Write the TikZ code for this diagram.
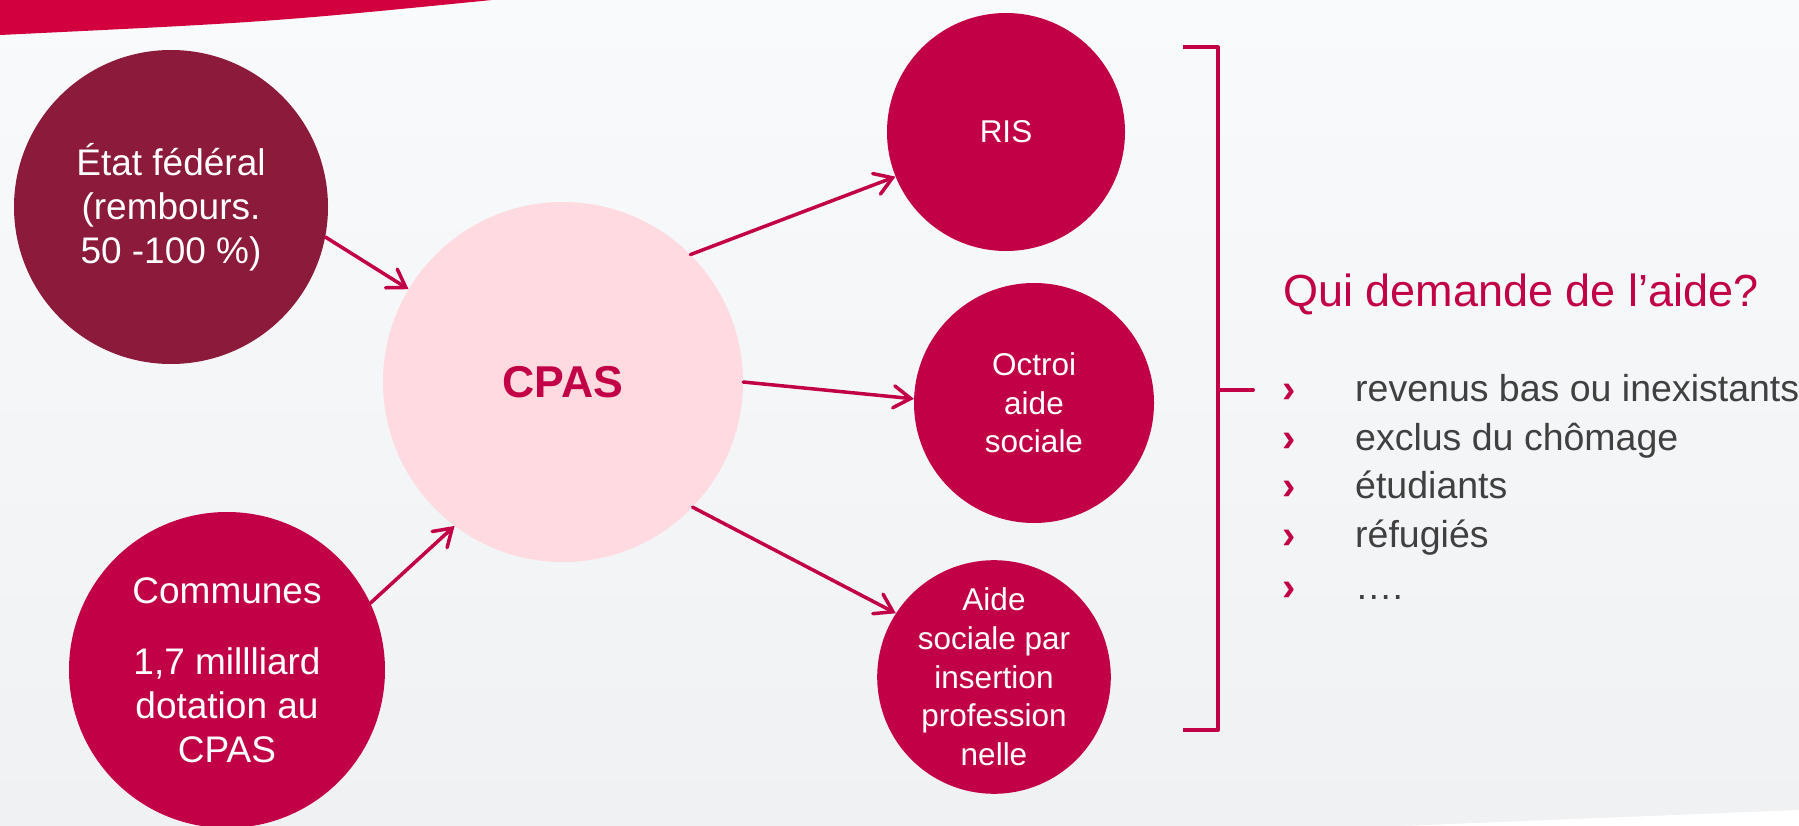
\documentclass[tikz,border=0pt]{standalone}
\usepackage{fontspec}
\setmainfont{Liberation Sans}
\usetikzlibrary{arrows.meta}
\definecolor{crim}{HTML}{C20045}
\definecolor{wine}{HTML}{8C1A3B}
\definecolor{band}{HTML}{D2003F}
\definecolor{pinkf}{HTML}{FFDAE0}
\definecolor{txtgray}{HTML}{404040}
\definecolor{bgtop}{HTML}{F9FAFB}
\definecolor{bgbot}{HTML}{F0F1F3}
\begin{document}
\begin{tikzpicture}[x=1pt,y=-1pt,
  bubble/.style={circle, inner sep=0pt, align=center, text=white, fill=crim},
  bigtext/.style={font=\fontsize{37}{44}\selectfont},
  smalltext/.style={font=\fontsize{31.5}{38.7}\selectfont},
  link/.style={crim, line width=3.5pt, line cap=round, -{Straight Barb[length=17pt,width=22pt,line cap=round]}},
  brack/.style={crim, line width=4pt, line join=round},
  item/.style={anchor=base west, text=txtgray, font=\fontsize{37.5}{45}\selectfont, inner sep=0pt},
  chev/.style={anchor=base, text=crim, font=\bfseries\fontsize{40}{48}\selectfont, inner sep=0pt}
]
\shade[top color=bgtop,bottom color=bgbot] (0,0) rectangle (1799,826);
\useasboundingbox (0,0) rectangle (1799,826);
\fill[band] (0,0) -- (492,0) .. controls (270,22) .. (0,35) -- cycle;
\fill[white] (1400,826) .. controls (1600,818) .. (1799,810) -- (1799,826) -- cycle;

\node[bubble, fill=wine, minimum size=314pt, bigtext] (etat) at (171,207) {État fédéral\\(rembours.\\50 -100 \%)};
\node[bubble, minimum size=316pt, bigtext] (communes) at (227,670) {Communes\\[27pt]1,7 millliard\\dotation au\\CPAS};
\node[circle, fill=pinkf, minimum size=360pt, inner sep=0pt, text=crim, font=\bfseries\fontsize{44.6}{50}\selectfont] (cpas) at (563,382) {CPAS};
\node[bubble, minimum size=238pt, smalltext] (ris) at (1006,132) {RIS};
\node[bubble, minimum size=240pt, smalltext] (octroi) at (1034,403) {Octroi\\aide\\sociale};
\node[bubble, minimum size=232pt, smalltext] (aide) at (994,677) {Aide\\sociale par\\insertion\\profession\\nelle};

\draw[link] (etat.-11.7) -- (cpas.149);
\draw[link] (communes.25.9) -- (cpas.233.3);
\draw[link] (cpas.45) -- (ris.202.4);
\draw[link] (cpas.0.6) -- (octroi.178.6);
\draw[link] (cpas.-44.8) -- (aide.147.5);

\coordinate (bt1) at (1183,47);
\coordinate (bt2) at (1218,47);
\coordinate (bb2) at (1218,730);
\coordinate (bb1) at (1183,730);
\coordinate (bm1) at (1218,390);
\coordinate (bm2) at (1253,390);
\draw[brack] (bt1) -- (bt2) -- (bb2) -- (bb1);
\draw[brack, line cap=round] (bm1) -- (bm2);

\node[anchor=base west, text=crim, font=\fontsize{45}{54}\selectfont, inner sep=0pt] (title) at (1283,307) {Qui demande de l’aide?};

\node[chev] (c1) at (1289,402) {›};
\node[chev] (c2) at (1289,451) {›};
\node[chev] (c3) at (1289,499) {›};
\node[chev] (c4) at (1289,548) {›};
\node[chev] (c5) at (1289,600) {›};
\node[item] (i1) at (1355,401) {revenus bas ou inexistants};
\node[item] (i2) at (1355,450) {exclus du chômage};
\node[item] (i3) at (1355,498) {étudiants};
\node[item] (i4) at (1355,547) {réfugiés};
\node[item] (i5) at (1355,599) {….};
\end{tikzpicture}
\end{document}
